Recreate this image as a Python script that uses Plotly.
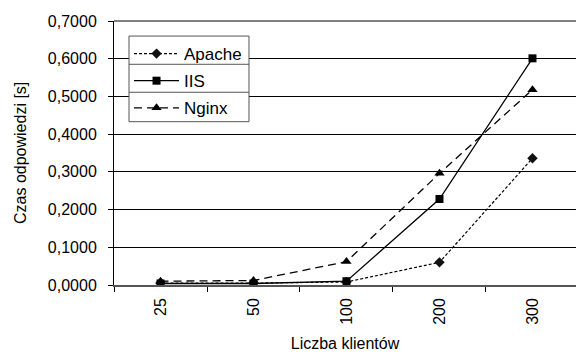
import plotly.graph_objects as go

categories = ["25", "50", "100", "200", "300"]
apache = [0.005, 0.005, 0.008, 0.060, 0.336]
iis = [0.004, 0.004, 0.010, 0.228, 0.601]
nginx = [0.010, 0.012, 0.062, 0.296, 0.518]
y_ticks = [0.0, 0.1, 0.2, 0.3, 0.4, 0.5, 0.6, 0.7]

FONT = "Liberation Sans, Arial, sans-serif"

fig = go.Figure()
fig.add_trace(go.Scatter(x=categories, y=apache, name="Apache", mode="lines+markers",
                         legendgroup="a",
                         line=dict(color="black", width=1.2, dash="3px,2px"),
                         marker=dict(symbol="diamond", size=8, color="#111111")))
fig.add_trace(go.Scatter(x=categories, y=iis, name="IIS", mode="lines+markers",
                         legendgroup="b",
                         line=dict(color="black", width=1.3),
                         marker=dict(symbol="square", size=8, color="black")))
fig.add_trace(go.Scatter(x=categories, y=nginx, name="Nginx", mode="lines+markers",
                         legendgroup="c",
                         line=dict(color="black", width=1.3, dash="8px,5px"),
                         marker=dict(symbol="triangle-up", size=9, color="black")))

fig.update_layout(
    width=576, height=358,
    margin=dict(l=114, r=0, t=21, b=73),
    paper_bgcolor="white", plot_bgcolor="white",
    font=dict(family=FONT, size=16, color="black"),
    separators=", ",
    showlegend=True,
    legend=dict(x=0.0325, y=0.943, xanchor="left", yanchor="top",
                bgcolor="rgba(0,0,0,0)", borderwidth=0,
                font=dict(family=FONT, size=17, color="black"),
                tracegroupgap=2, itemwidth=45),
    xaxis=dict(type="category", range=[-0.5, 4.468], tickangle=-90,
               ticks="outside", tickson="boundaries", ticklen=5, tickcolor="black",
               ticklabelstandoff=5,
               showline=True, linecolor="#555555", linewidth=1.5,
               showgrid=False, zeroline=False,
               title=dict(text="Liczba klientów", font=dict(size=16), standoff=14),
               tickfont=dict(size=16)),
    yaxis=dict(range=[0, 0.7], tickvals=y_ticks, tickformat=".4f",
               ticks="outside", ticklen=5, tickcolor="black",
               ticklabelstandoff=8,
               showline=True, linecolor="black", linewidth=1,
               showgrid=True, gridcolor="black", gridwidth=1, zeroline=False,
               tickfont=dict(size=16)),
)
fig.add_annotation(text="Czas odpowiedzi [s]", textangle=-90, showarrow=False,
                   xref="paper", yref="paper", x=-0.2035, y=0.5,
                   xanchor="center", yanchor="middle", font=dict(size=16))
fig.add_shape(type="line", xref="paper", yref="paper", x0=0, x1=1, y0=1, y1=1,
              line=dict(color="#808080", width=2))
# legend box with row separators (Excel-style)
lx0, lx1 = 0.0325, 0.2922
ly0, ly1 = 0.6186, 0.943
fig.add_shape(type="rect", xref="paper", yref="paper", x0=lx0, x1=lx1, y0=ly0, y1=ly1,
              fillcolor="white", line=dict(color="#555555", width=1), layer="above")
for ys in (0.836, 0.730):
    fig.add_shape(type="line", xref="paper", yref="paper", x0=lx0, x1=lx1, y0=ys, y1=ys,
                  line=dict(color="#555555", width=1), layer="above")

fig.write_html("out.html")
